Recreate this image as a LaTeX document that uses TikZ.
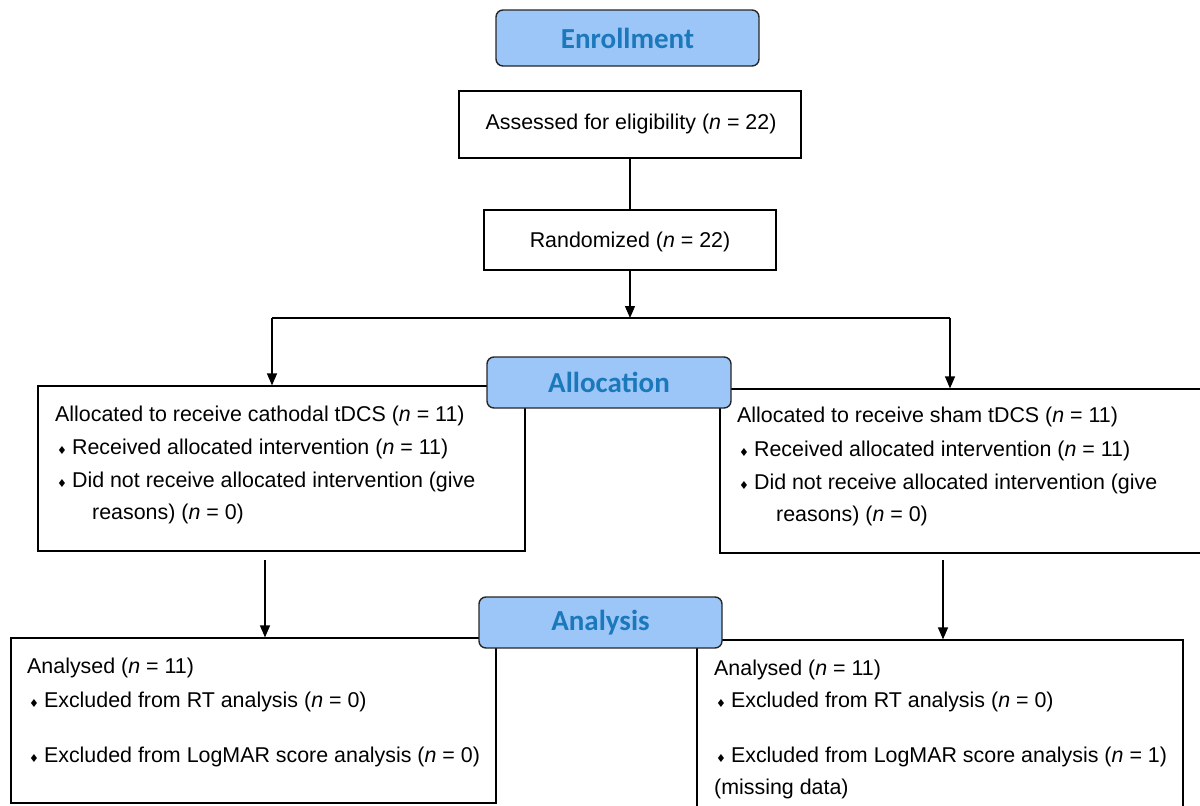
\documentclass[tikz,border=0pt]{standalone}
\usepackage{fontspec}
\setmainfont{Liberation Sans}
\newfontfamily\headfont{Carlito}
\newfontfamily\symfont{DejaVu Sans}
\usetikzlibrary{arrows.meta}
\definecolor{hdrfill}{HTML}{9DC6F8}
\definecolor{hdrtext}{HTML}{1B78BA}
\newcommand{\nn}{\textit{n}}
\newcommand{\bul}{{\fontsize{11}{11}\selectfont\symfont ♦}\hspace{5pt}}
\tikzset{
  box/.style={draw=black, line width=1.2pt, fill=white, inner sep=0pt},
  hdr/.style={draw=black!85, line width=1.4pt, fill=hdrfill, rounded corners=7pt, inner sep=0pt,
     font=\headfont\bfseries\fontsize{29}{29}\selectfont, text=hdrtext},
  txt/.style={font=\fontsize{21.4}{21.4}\selectfont, inner sep=0pt, anchor=west},
  ctxt/.style={font=\fontsize{21.4}{21.4}\selectfont, inner sep=0pt},
  conn/.style={line width=1.2pt, draw=black},
  arr/.style={conn, -{Triangle[length=12pt,width=10pt]}}
}
\begin{document}
\begin{tikzpicture}[x=1pt,y=-1pt]
\useasboundingbox (0,0) rectangle (1200,806);
% boxes
\node[box, minimum width=342pt, minimum height=67pt] (assess) at (630,124.5) {};
\node[ctxt] (assesst) at (631,124) {Assessed for eligibility (\nn{} = 22)};
\node[box, minimum width=292pt, minimum height=60pt] (rand) at (630,240) {};
\node[ctxt] (randt) at (630,242) {Randomized (\nn{} = 22)};
\node[box, minimum width=487pt, minimum height=165pt] (allocL) at (281.5,468.5) {};
\node[box, minimum width=490pt, minimum height=164pt] (allocR) at (965,471) {};
\node[box, minimum width=485pt, minimum height=165pt] (anaL) at (253.5,720.5) {};
\node[box, minimum width=486pt, minimum height=190pt] (anaR) at (940,735) {};
% connectors
\coordinate (split) at (630,318);
\coordinate (jl) at (272,318);
\coordinate (jr) at (950,318);
\draw[conn] (assess.south) -- (rand.north);
\draw[arr] (rand.south) -- (split);
\draw[conn] (jl) -- (jr);
\draw[arr] (jl) -- (allocL.north -| jl);
\draw[arr] (jr) -- (allocR.north -| jr);
\coordinate (sL) at (265,560);
\coordinate (sR) at (943,560);
\draw[arr] (sL) -- (anaL.north -| sL);
\draw[arr] (sR) -- (anaR.north -| sR);
% headers
\node[hdr, minimum width=263pt, minimum height=56pt] (enr) at (627.5,38) {Enrollment};
\node[hdr, minimum width=244pt, minimum height=51pt] (allo) at (609,382.5) {Allocation};
\node[hdr, minimum width=243pt, minimum height=51pt] (anal) at (600.5,622.5) {Analysis};
% allocation text left
\node[txt] (l1) at (55,416) {Allocated to receive cathodal tDCS (\nn{} = 11)};
\node[txt] (l2) at (57,449) {\bul Received allocated intervention (\nn{} = 11)};
\node[txt] (l3) at (57,482) {\bul Did not receive allocated intervention (give};
\node[txt] (l4) at (92,514) {reasons) (\nn{} = 0)};
% allocation text right
\node[txt] (r1) at (737,417) {Allocated to receive sham tDCS (\nn{} = 11)};
\node[txt] (r2) at (739,451) {\bul Received allocated intervention (\nn{} = 11)};
\node[txt] (r3) at (739,484) {\bul Did not receive allocated intervention (give};
\node[txt] (r4) at (776,516) {reasons) (\nn{} = 0)};
% analysis text left
\node[txt] (a1) at (27,668) {Analysed (\nn{} = 11)};
\node[txt] (a2) at (29,702) {\bul Excluded from RT analysis (\nn{} = 0)};
\node[txt] (a3) at (29,757) {\bul Excluded from LogMAR score analysis (\nn{} = 0)};
% analysis text right
\node[txt] (b1) at (714,670) {Analysed (\nn{} = 11)};
\node[txt] (b2) at (716,702) {\bul Excluded from RT analysis (\nn{} = 0)};
\node[txt] (b3) at (716,757) {\bul Excluded from LogMAR score analysis (\nn{} = 1)};
\node[txt] (b4) at (714,789) {(missing data)};
\end{tikzpicture}
\end{document}
